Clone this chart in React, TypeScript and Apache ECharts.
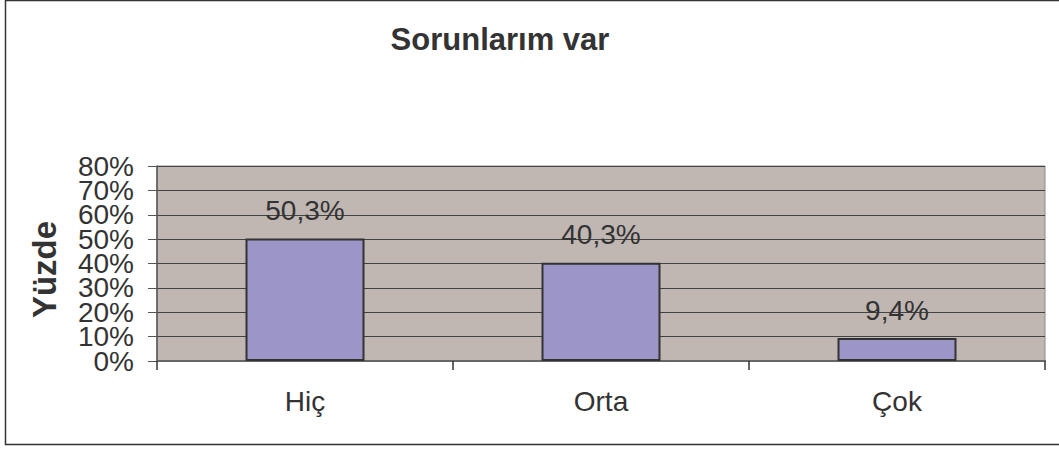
import React, { useEffect, useRef } from "react";
import * as echarts from "echarts";

const categories = ["Hiç", "Orta", "Çok"];
const values = [50.3, 40.3, 9.4];
const valueLabels = ["50,3%", "40,3%", "9,4%"];
const yMin = 0;
const yMax = 80;
const yStep = 10;

export default function App() {
  const ref = useRef<HTMLDivElement>(null);
  useEffect(() => {
    document.body.style.margin = "0";
    const chart = echarts.init(ref.current!, null, { renderer: "svg" });
    const font = "Liberation Sans, Arial, Helvetica, sans-serif";
    const yLabelStyle = {
      fontSize: 28,
      lineHeight: 22,
      color: "#333333",
      margin: 23,
      fontFamily: font,
      formatter: (v: number) => v + "%",
    };
    chart.setOption({
      animation: false,
      backgroundColor: "#ffffff",
      textStyle: { fontFamily: font },
      title: {
        text: "Sorunlarım var",
        left: 495,
        top: 19,
        textAlign: "center",
        textStyle: { fontFamily: font, fontSize: 31, fontWeight: "bold", color: "#333333" },
      },
      graphic: [
        {
          type: "rect",
          shape: { x: 5.5, y: 0.5, width: 1060, height: 444 },
          style: { fill: "none", stroke: "#333333", lineWidth: 1.5 },
          silent: true,
          z: 100,
        },
      ],
      grid: {
        left: 157,
        right: 14,
        top: 166,
        bottom: 89,
        show: true,
        backgroundColor: "#C0B7B3",
        borderColor: "#8a8a8a",
        borderWidth: 1,
      },
      xAxis: {
        type: "category",
        data: categories,
        axisLine: { show: true, lineStyle: { color: "#666666", width: 2 } },
        axisTick: { show: true, alignWithLabel: false, length: 9, lineStyle: { color: "#333333", width: 1.5 } },
        axisLabel: { fontSize: 28, color: "#333333", margin: 26, fontFamily: font },
        splitLine: { show: false },
      },
      yAxis: [
        {
          type: "value",
          min: yMin,
          max: yMax,
          interval: yStep,
          name: "Yüzde",
          nameLocation: "middle",
          nameGap: 96,
          nameTextStyle: {
            fontSize: 33,
            fontWeight: "bold",
            color: "#333333",
            fontFamily: font,
            padding: [0, 12, 0, 0],
          },
          axisLine: { show: true, lineStyle: { color: "#555555", width: 1.5 } },
          axisTick: { show: true, length: 9, lineStyle: { color: "#555555" } },
          axisLabel: { ...yLabelStyle, showMinLabel: false, showMaxLabel: false },
          splitLine: { show: true, lineStyle: { color: "#444444", width: 1 } },
        },
        {
          type: "value",
          position: "left",
          offset: 0,
          min: yMin,
          max: yMax,
          interval: yMax - yMin,
          axisLine: { show: false },
          axisTick: { show: true, length: 9, lineStyle: { color: "#555555" } },
          axisLabel: { ...yLabelStyle, showMinLabel: true, showMaxLabel: true },
          splitLine: { show: false },
        },
      ],
      series: [
        {
          type: "bar",
          data: values,
          yAxisIndex: 0,
          barWidth: 119,
          itemStyle: { color: "#9C95C7", borderColor: "#333333", borderWidth: 2 },
          label: {
            show: true,
            position: "top",
            distance: 14,
            fontSize: 28,
            color: "#333333",
            fontFamily: font,
            formatter: (p: any) => valueLabels[p.dataIndex],
          },
        },
      ],
    });
    return () => chart.dispose();
  }, []);
  return <div ref={ref} style={{ width: 1059, height: 450 }} />;
}
